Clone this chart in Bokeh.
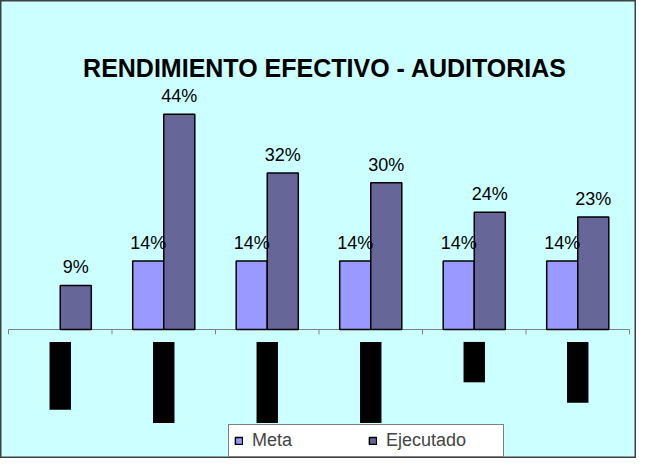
from bokeh.plotting import figure
from bokeh.models import ColumnDataSource, Range1d, Legend, LegendItem, Label
from bokeh.core.properties import value
from bokeh.embed import file_html
from bokeh.resources import INLINE

# ---- data ----
title_text = "RENDIMIENTO EFECTIVO - AUDITORIAS"
series_names = ["Meta", "Ejecutado"]
meta = [None, 14, 14, 14, 14, 14]          # % (first category has no goal bar)
ejecutado = [9, 44, 32, 30, 24, 23]        # %
# category labels are blacked out in the original; depth of each black box (in % units)
label_box_depth = [16.4, 19.1, 19.1, 19.1, 10.8, 15.0]

# ---- layout constants ----
W, H = 636, 458
PX_PER_CAT = 103.5
PX_PER_PCT = 4.89
AXIS_Y = 329          # pixel row of the zero line, from the top
BG = "#ccffff"
C_META = "#9999ff"
C_EJEC = "#666699"
bw = 0.3
n = len(ejecutado)
centers = [i + 0.5 for i in range(n)]
bounds = list(range(n + 1))

x_start = -8 / PX_PER_CAT
p = figure(width=W, height=H, output_backend="svg", toolbar_location=None,
           x_range=Range1d(x_start, x_start + W / PX_PER_CAT),
           y_range=Range1d(-(H - AXIS_Y) / PX_PER_PCT, AXIS_Y / PX_PER_PCT),
           x_axis_location=None, y_axis_location=None, title_location=None,
           min_border=0, min_border_left=0, min_border_right=0,
           min_border_top=0, min_border_bottom=0,
           background_fill_color=BG, border_fill_color=BG)
p.grid.visible = False
p.outline_line_color = "#404040"
p.outline_line_width = 2

meta_src = ColumnDataSource(dict(
    x=[c - bw / 2 for c, v in zip(centers, meta) if v is not None],
    top=[v for v in meta if v is not None],
    label=[f"{v}%" for v in meta if v is not None]))
ejec_src = ColumnDataSource(dict(
    x=[c + bw / 2 for c in centers],
    top=ejecutado,
    label=[f"{v}%" for v in ejecutado]))

# axis line and ticks at y = 0
p.line(x=[bounds[0], bounds[-1]], y=[0, 0], line_color="#808080", line_width=1)
p.segment(x0=bounds, y0=[0] * len(bounds), x1=bounds, y1=[-1.0] * len(bounds),
          line_color="#808080", line_width=1)

r_meta = p.vbar(x="x", top="top", bottom=0, width=bw, source=meta_src,
                fill_color=C_META, line_color="black", line_width=1.5)
r_ejec = p.vbar(x="x", top="top", bottom=0, width=bw, source=ejec_src,
                fill_color=C_EJEC, line_color="black", line_width=1.5)

for src in (meta_src, ejec_src):
    p.text(x="x", y="top", text="label", source=src, text_align="center",
           text_baseline="alphabetic", y_offset=-18,
           text_font=value("Liberation Sans"), text_font_size="18px",
           text_color="black")

# blacked-out category labels
p.vbar(x=centers, top=[-2.54] * n, bottom=[-d for d in label_box_depth],
       width=0.207, fill_color="black", line_color=None)

p.add_layout(Label(x=n / 2, y=(AXIS_Y - 67) / PX_PER_PCT, x_offset=6, text=title_text,
                   text_align="center", text_baseline="alphabetic",
                   text_font="Liberation Sans", text_font_style="bold",
                   text_font_size="25px", text_color="black"))

legend = Legend(items=[LegendItem(label=series_names[0], renderers=[r_meta]),
                       LegendItem(label=series_names[1], renderers=[r_ejec])],
                orientation="horizontal", location=(228, 1), padding=5, spacing=4,
                label_width=112, label_height=18, glyph_width=9, glyph_height=9,
                label_standoff=9, label_text_font="Liberation Sans",
                label_text_font_size="18px", border_line_color="black",
                border_line_width=1, background_fill_color="white",
                background_fill_alpha=1, margin=0)
p.add_layout(legend)

open("out.html", "w").write(file_html(p, INLINE))
